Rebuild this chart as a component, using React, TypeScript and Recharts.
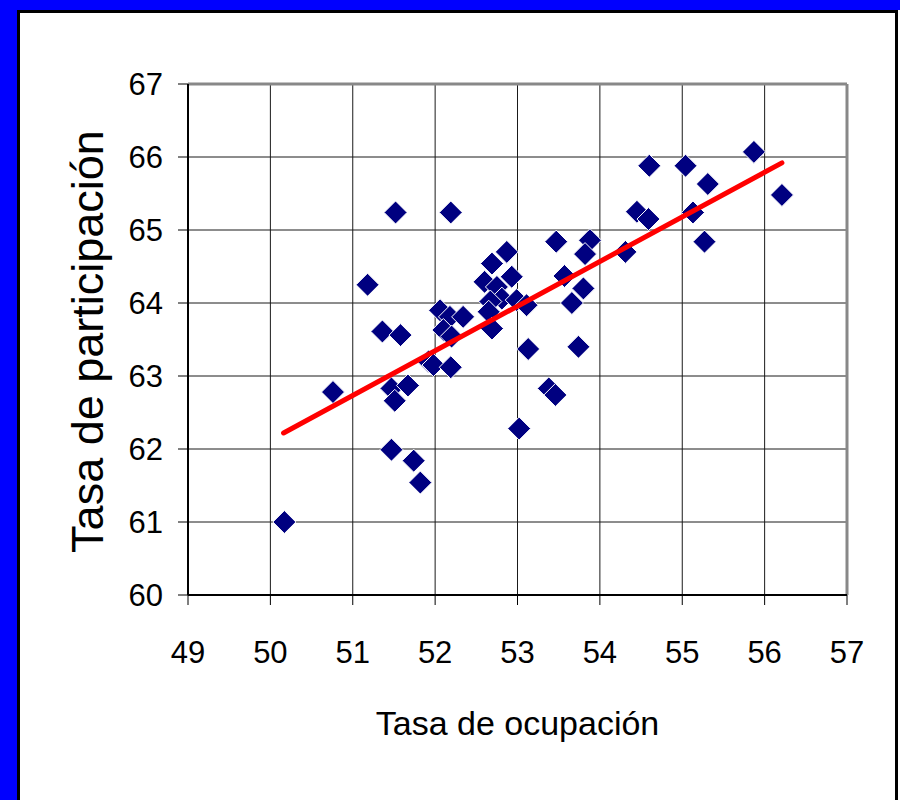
import {
  ScatterChart, Scatter, XAxis, YAxis, CartesianGrid, ReferenceLine,
} from 'recharts'

// Tasa de ocupación (x) vs Tasa de participación (y)
const ocupacion = [
  50.17, 50.76, 51.18, 51.52, 52.19, 51.36, 51.58, 51.47, 51.74, 51.82,
  53.02, 53.13, 51.47, 51.51, 51.67, 51.92, 51.98, 52.19, 52.06, 52.18,
  52.34, 52.10, 52.20, 52.69, 52.87, 52.93, 52.60, 52.75, 52.81, 52.67,
  52.65, 52.69, 52.99, 53.11, 53.47, 53.88, 53.82, 53.57, 53.80, 53.66,
  53.74, 53.38, 53.46, 54.31, 54.45, 54.59, 54.60, 55.04, 55.31, 55.13,
  55.27, 55.87, 56.21,
]
const participacion = [
  61.00, 62.78, 64.25, 65.24, 65.24, 63.61, 63.56, 61.99, 61.84, 61.54,
  62.28, 63.37, 62.83, 62.66, 62.87, 63.20, 63.15, 63.12, 63.90, 63.81,
  63.81, 63.63, 63.54, 64.54, 64.70, 64.36, 64.29, 64.22, 64.06, 64.02,
  63.88, 63.65, 64.04, 63.97, 64.84, 64.86, 64.67, 64.37, 64.20, 64.00,
  63.40, 62.83, 62.74, 64.70, 65.25, 65.15, 65.88, 65.88, 65.63, 65.24,
  64.84, 66.07, 65.48,
]

// línea de tendencia (extremos)
const trendX = [50.16, 56.21]
const trendY = [62.22, 65.92]

const xTicks = [49, 50, 51, 52, 53, 54, 55, 56, 57]
const yTicks = [60, 61, 62, 63, 64, 65, 66, 67]

const points = ocupacion.map((x, i) => ({ x, y: participacion[i] }))
const trend = trendX.map((x, i) => ({ x, y: trendY[i] }))

const FONT = '"Liberation Sans", Arial, sans-serif'

const Diamond = (props: any) => {
  const { cx, cy } = props
  if (cx == null || cy == null) return <g />
  const r = 11.5
  return (
    <polygon
      points={`${cx},${cy - r} ${cx + r},${cy} ${cx},${cy + r} ${cx - r},${cy}`}
      fill="#000080"
      stroke="#ffffff"
      strokeWidth={1}
      strokeLinejoin="round"
    />
  )
}

export default function App() {
  return (
    <div style={{ position: 'fixed', left: 0, top: 0, width: 900, height: 800, background: '#0000ff', overflow: 'hidden' }}>
      <div style={{
        position: 'absolute', left: 17, top: 10, width: 881, height: 790,
        background: '#fff', borderLeft: '3px solid #000', borderTop: '3px solid #000',
        borderRight: '3px solid #000', boxSizing: 'border-box',
      }} />
      <div style={{ position: 'absolute', left: 898, top: 10, width: 2, height: 790, background: '#fff' }} />
      <div style={{ position: 'absolute', left: 0, top: 0 }}>
        <ScatterChart width={900} height={800} margin={{ top: 84, right: 53, bottom: 0, left: 0 }}>
          <CartesianGrid stroke="#1a1a1a" strokeWidth={1} />
          <XAxis
            type="number" dataKey="x" domain={[49, 57]} ticks={xTicks} height={205}
            tickSize={10} tickMargin={36}
            axisLine={{ stroke: '#000', strokeWidth: 2 }} tickLine={{ stroke: '#000' }}
            tick={{ fill: '#000', fontSize: 31, fontFamily: FONT }}
            label={{ value: 'Tasa de ocupación', position: 'center', dy: 25, fill: '#000', fontSize: 34, fontFamily: FONT }}
          />
          <YAxis
            type="number" dataKey="y" domain={[60, 67]} ticks={yTicks} width={188}
            tickSize={10} tickMargin={15}
            axisLine={{ stroke: '#000', strokeWidth: 2 }} tickLine={{ stroke: '#000' }}
            tick={{ fill: '#000', fontSize: 31, fontFamily: FONT }}
            label={{ value: 'Tasa de participación', angle: -90, position: 'center', dx: -7, dy: 2, fill: '#000', fontSize: 45, fontFamily: FONT }}
          />
          <ReferenceLine y={67} stroke="#888" strokeWidth={3} />
          <ReferenceLine x={57} stroke="#888" strokeWidth={3} />
          <Scatter data={points} shape={<Diamond />} isAnimationActive={false} />
          <Scatter
            data={trend}
            line={{ stroke: '#ff0000', strokeWidth: 5, strokeLinecap: 'round' }}
            shape={() => <g />}
            isAnimationActive={false}
          />
        </ScatterChart>
      </div>
    </div>
  )
}
